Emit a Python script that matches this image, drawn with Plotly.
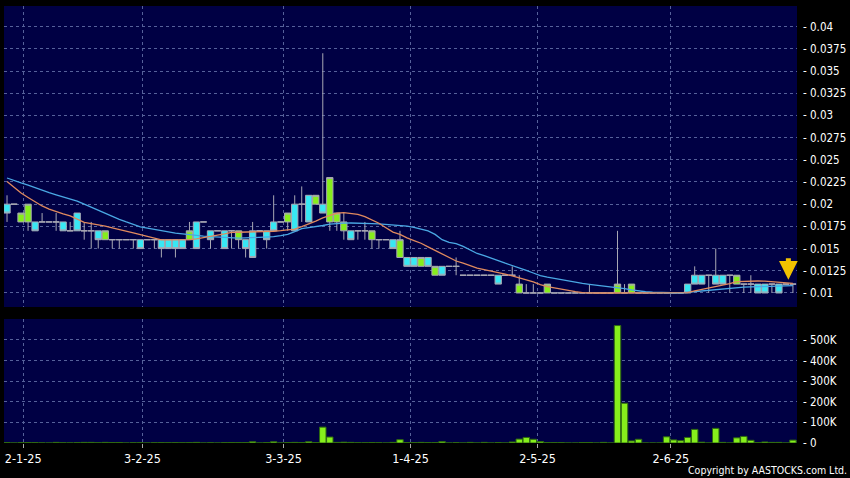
import plotly.graph_objects as go

# ---------------- data ----------------
tick_pos = [2.3, 19.3, 39.4, 57.5, 75.6, 94.6]
tick_labels = ["2-1-25", "3-2-25", "3-3-25", "1-4-25", "2-5-25", "2-6-25"]

price_ticks = [0.01, 0.0125, 0.015, 0.0175, 0.02, 0.0225, 0.025, 0.0275, 0.03, 0.0325, 0.035, 0.0375, 0.04]
price_tick_text = ["0.01", "0.0125", "0.015", "0.0175", "0.02", "0.0225", "0.025", "0.0275", "0.03", "0.0325", "0.035", "0.0375", "0.04"]
vol_ticks = [0, 100000, 200000, 300000, 400000, 500000]
vol_tick_text = ["0", "100K", "200K", "300K", "400K", "500K"]

open_ = [0.020, 0.020, 0.018, 0.018, 0.018, 0.018, 0.018, 0.018, 0.018, 0.017,
         0.019, 0.017, 0.017, 0.017, 0.016, 0.016, 0.016, 0.016, 0.016, 0.016,
         0.016, 0.016, 0.016, 0.016, 0.016, 0.016, 0.016, 0.018, 0.018, 0.017,
         0.017, 0.017, 0.017, 0.016, 0.016, 0.017, 0.017, 0.017, 0.018, 0.018,
         0.018, 0.020, 0.020, 0.021, 0.020, 0.020, 0.018, 0.018, 0.017, 0.017,
         0.017, 0.017, 0.016, 0.016, 0.016, 0.016, 0.014, 0.014, 0.014, 0.013,
         0.014, 0.012, 0.013, 0.013, 0.013, 0.012, 0.012, 0.012, 0.012, 0.012,
         0.012, 0.012, 0.012, 0.010, 0.010, 0.010, 0.010, 0.010, 0.010, 0.010,
         0.010, 0.010, 0.010, 0.010, 0.010, 0.010, 0.010, 0.010, 0.010, 0.010,
         0.010, 0.010, 0.010, 0.010, 0.010, 0.010, 0.010, 0.011, 0.012, 0.012,
         0.012, 0.012, 0.012, 0.012, 0.011, 0.011, 0.011, 0.011, 0.011, 0.011,
         0.011, 0.011, 0.011]
high = [0.021, 0.020, 0.019, 0.020, 0.018, 0.019, 0.018, 0.019, 0.018, 0.018,
        0.019, 0.018, 0.018, 0.017, 0.017, 0.016, 0.016, 0.016, 0.016, 0.016,
        0.016, 0.016, 0.016, 0.016, 0.016, 0.016, 0.018, 0.018, 0.018, 0.017,
        0.017, 0.017, 0.017, 0.017, 0.016, 0.018, 0.017, 0.017, 0.021, 0.018,
        0.019, 0.021, 0.022, 0.021, 0.021, 0.037, 0.023, 0.019, 0.019, 0.017,
        0.017, 0.018, 0.017, 0.016, 0.016, 0.016, 0.017, 0.014, 0.014, 0.014,
        0.014, 0.013, 0.013, 0.013, 0.014, 0.012, 0.012, 0.012, 0.012, 0.012,
        0.012, 0.012, 0.013, 0.012, 0.011, 0.011, 0.010, 0.011, 0.010, 0.010,
        0.010, 0.010, 0.010, 0.011, 0.010, 0.010, 0.010, 0.017, 0.011, 0.011,
        0.010, 0.010, 0.010, 0.010, 0.010, 0.010, 0.010, 0.011, 0.013, 0.012,
        0.012, 0.015, 0.012, 0.012, 0.012, 0.011, 0.012, 0.011, 0.011, 0.011,
        0.011, 0.011, 0.011]
low = [0.018, 0.020, 0.018, 0.017, 0.017, 0.018, 0.018, 0.017, 0.017, 0.017,
       0.017, 0.016, 0.015, 0.015, 0.016, 0.015, 0.015, 0.016, 0.015, 0.015,
       0.016, 0.015, 0.014, 0.015, 0.014, 0.015, 0.016, 0.015, 0.018, 0.015,
       0.017, 0.015, 0.015, 0.015, 0.014, 0.014, 0.017, 0.015, 0.017, 0.018,
       0.017, 0.017, 0.018, 0.018, 0.020, 0.019, 0.017, 0.017, 0.016, 0.016,
       0.016, 0.016, 0.015, 0.015, 0.016, 0.015, 0.014, 0.013, 0.013, 0.013,
       0.013, 0.012, 0.012, 0.013, 0.012, 0.012, 0.012, 0.012, 0.012, 0.012,
       0.011, 0.012, 0.012, 0.010, 0.010, 0.010, 0.010, 0.010, 0.010, 0.010,
       0.010, 0.010, 0.010, 0.010, 0.010, 0.010, 0.010, 0.010, 0.010, 0.010,
       0.010, 0.010, 0.010, 0.010, 0.010, 0.010, 0.010, 0.010, 0.011, 0.011,
       0.010, 0.011, 0.011, 0.010, 0.011, 0.010, 0.010, 0.010, 0.010, 0.010,
       0.010, 0.011, 0.010]
close = [0.019, 0.020, 0.019, 0.020, 0.017, 0.018, 0.018, 0.018, 0.017, 0.017,
         0.017, 0.017, 0.017, 0.016, 0.017, 0.016, 0.016, 0.016, 0.016, 0.015,
         0.016, 0.016, 0.015, 0.015, 0.015, 0.015, 0.017, 0.015, 0.018, 0.016,
         0.017, 0.015, 0.017, 0.017, 0.015, 0.014, 0.017, 0.016, 0.017, 0.018,
         0.019, 0.017, 0.020, 0.018, 0.021, 0.019, 0.023, 0.019, 0.018, 0.016,
         0.017, 0.017, 0.017, 0.016, 0.016, 0.015, 0.016, 0.013, 0.013, 0.014,
         0.013, 0.013, 0.012, 0.013, 0.013, 0.012, 0.012, 0.012, 0.012, 0.012,
         0.011, 0.012, 0.012, 0.011, 0.010, 0.010, 0.010, 0.011, 0.010, 0.010,
         0.010, 0.010, 0.010, 0.010, 0.010, 0.010, 0.010, 0.011, 0.010, 0.011,
         0.010, 0.010, 0.010, 0.010, 0.010, 0.010, 0.010, 0.010, 0.011, 0.011,
         0.012, 0.011, 0.011, 0.012, 0.012, 0.011, 0.011, 0.010, 0.010, 0.011,
         0.010, 0.011, 0.011]
volume = [2000, 0, 1500, 2000, 1500, 500, 0, 3000, 1000, 500,
          1500, 3000, 3000, 1000, 3000, 2000, 2500, 0, 1000, 1000,
          0, 1000, 1500, 1000, 1500, 1000, 1500, 3000, 0, 1000,
          0, 1500, 2500, 1500, 2000, 6000, 0, 2000, 6000, 0,
          2000, 3000, 2000, 6000, 2000, 77000, 29000, 3000, 4000, 3000,
          1000, 1000, 2500, 1000, 0, 3000, 16000, 2000, 1500, 3000,
          1500, 2000, 7000, 0, 1500, 0, 3000, 0, 3000, 0,
          2000, 0, 5000, 19000, 27000, 18000, 7000, 2000, 1500, 1500,
          0, 0, 2500, 2500, 0, 3000, 0, 570000, 193000, 10000,
          18000, 0, 0, 0, 30000, 15000, 11000, 27000, 66000, 4000,
          0, 71000, 3000, 0, 25000, 32000, 13000, 2000, 5000, 3000,
          3000, 0, 14000]
ma_short = [0.02255, 0.02185, 0.02125, 0.02075, 0.02030, 0.01980, 0.01945, 0.01915, 0.01890, 0.01868,
            0.01830, 0.01795, 0.01780, 0.01768, 0.01752, 0.01733, 0.01717, 0.01698, 0.01678, 0.01658,
            0.01638, 0.01613, 0.01597, 0.01597, 0.01597, 0.01597, 0.01600, 0.01610, 0.01625, 0.01645,
            0.01652, 0.01665, 0.01682, 0.01684, 0.01685, 0.01686, 0.01688, 0.01690, 0.01695, 0.01702,
            0.01709, 0.01720, 0.01747, 0.01775, 0.01810, 0.01845, 0.01875, 0.01900, 0.01904, 0.01897,
            0.01885, 0.01860, 0.01825, 0.01785, 0.01735, 0.01685, 0.01660, 0.01620, 0.01590, 0.01560,
            0.01520, 0.01480, 0.01440, 0.01400, 0.01360, 0.01335, 0.01305, 0.01280, 0.01263, 0.01248,
            0.01233, 0.01212, 0.01192, 0.01170, 0.01150, 0.01125, 0.01095, 0.01072, 0.01058, 0.01042,
            0.01030, 0.01015, 0.01005, 0.01000, 0.01000, 0.01000, 0.01000, 0.01003, 0.01003, 0.01005,
            0.01005, 0.01005, 0.01004, 0.01003, 0.01002, 0.01001, 0.01000, 0.01005, 0.01025, 0.01040,
            0.01055, 0.01070, 0.01090, 0.01105, 0.01127, 0.01132, 0.01135, 0.01135, 0.01133, 0.01128,
            0.01122, 0.01113, 0.01108]
ma_long = [0.02295, 0.02265, 0.02240, 0.02215, 0.02185, 0.02155, 0.02130, 0.02105, 0.02080, 0.02060,
           0.02035, 0.02000, 0.01965, 0.01930, 0.01895, 0.01860, 0.01830, 0.01800, 0.01775, 0.01745,
           0.01730, 0.01715, 0.01705, 0.01690, 0.01675, 0.01665, 0.01655, 0.01648, 0.01640, 0.01634,
           0.01628, 0.01622, 0.01616, 0.01617, 0.01620, 0.01622, 0.01625, 0.01628, 0.01635, 0.01645,
           0.01660, 0.01690, 0.01725, 0.01737, 0.01745, 0.01760, 0.01775, 0.01785, 0.01787, 0.01788,
           0.01788, 0.01785, 0.01782, 0.01778, 0.01773, 0.01768, 0.01762, 0.01752, 0.01740, 0.01720,
           0.01700, 0.01660, 0.01600, 0.01570, 0.01555, 0.01525, 0.01485, 0.01445, 0.01420, 0.01395,
           0.01365, 0.01335, 0.01310, 0.01283, 0.01255, 0.01225, 0.01195, 0.01178, 0.01163, 0.01148,
           0.01133, 0.01117, 0.01108, 0.01097, 0.01088, 0.01080, 0.01071, 0.01060, 0.01048, 0.01035,
           0.01022, 0.01014, 0.01008, 0.01004, 0.01001, 0.01000, 0.01000, 0.01008, 0.01015, 0.01025,
           0.01035, 0.01043, 0.01050, 0.01055, 0.01060, 0.01065, 0.01068, 0.01070, 0.01073, 0.01076,
           0.01079, 0.01081, 0.01083]
latest_close = 0.0115

# ---------------- styling ----------------
BG = "#000000"
PLOT_BG = "#000044"
GRID = "#56619a"
CYAN = "#38e8f4"
GREEN = "#86ee1c"
WICK = "#a8a8b4"
FONT = "DejaVu Sans Condensed, DejaVu Sans"

idx = list(range(len(close)))
x_range = [-0.43, 112.58]

fig = go.Figure()

fig.add_trace(go.Candlestick(
    x=idx, open=open_, high=high, low=low, close=close,
    increasing=dict(fillcolor=GREEN, line=dict(color=WICK, width=1)),
    decreasing=dict(fillcolor=CYAN, line=dict(color=WICK, width=1)),
    whiskerwidth=0, xaxis="x", yaxis="y", showlegend=False, hoverinfo="skip",
))
fig.add_trace(go.Scatter(x=idx, y=ma_long, mode="lines",
                         line=dict(color="#4aa8e4", width=1.3), xaxis="x", yaxis="y",
                         showlegend=False, hoverinfo="skip"))
fig.add_trace(go.Scatter(x=idx, y=ma_short, mode="lines",
                         line=dict(color="#e08a5e", width=1.3), xaxis="x", yaxis="y",
                         showlegend=False, hoverinfo="skip"))
fig.add_trace(go.Bar(x=idx, y=volume, marker=dict(color=GREEN, line=dict(color="#2f6a10", width=1)),
                     width=0.92, xaxis="x2", yaxis="y2", showlegend=False, hoverinfo="skip"))

axis_font = dict(family=FONT, size=11.5, color="#ffffff")

fig.update_layout(
    width=850, height=478,
    paper_bgcolor=BG, plot_bgcolor=PLOT_BG,
    margin=dict(l=4, r=50, t=6, b=35),
    boxgap=0.1,
    boxgroupgap=0,
    bargap=0.08,
    xaxis=dict(domain=[0, 1], anchor="y", range=x_range, rangeslider=dict(visible=False),
               tickvals=tick_pos, showticklabels=False, ticks="",
               showgrid=True, gridcolor=GRID, griddash="3px,3px", gridwidth=1,
               zeroline=False, showline=False),
    xaxis2=dict(domain=[0, 1], anchor="y2", range=x_range, matches="x",
                tickvals=tick_pos, ticktext=tick_labels, ticks="outside", ticklen=4,
                tickcolor="#aaaaaa", tickfont=dict(family=FONT, size=12.5, color="#ffffff"),
                showgrid=True, gridcolor=GRID, griddash="3px,3px", gridwidth=1,
                zeroline=False, showline=False),
    yaxis=dict(domain=[0.3112, 1], anchor="x", side="right", range=[0.00842, 0.04232],
               tickvals=price_ticks, ticktext=["- " + t for t in price_tick_text],
               ticks="", tickfont=axis_font, ticklabelstandoff=5,
               showgrid=True, gridcolor=GRID, griddash="3px,3px", gridwidth=1,
               zeroline=False, showline=False),
    yaxis2=dict(domain=[0, 0.2838], anchor="x2", side="right", range=[0, 602000],
                tickvals=vol_ticks, ticktext=["- " + t for t in vol_tick_text],
                ticks="", tickfont=axis_font, ticklabelstandoff=5,
                showgrid=True, gridcolor=GRID, griddash="3px,3px", gridwidth=1,
                zeroline=False, showline=False),
    annotations=[
        dict(x=111.35, y=latest_close, xref="x", yref="y", text="", showarrow=True,
             ax=0, ay=-23, arrowhead=2, arrowsize=0.75, arrowwidth=5, arrowcolor="#f2c200"),
        dict(x=1.066, y=-0.062, xref="paper", yref="paper", xanchor="right", yanchor="middle",
             text="Copyright by AASTOCKS.com Ltd.", showarrow=False,
             font=dict(family=FONT, size=10.5, color="#ffffff")),
    ],
)

fig.write_html("out.html", config={"displayModeBar": False},
               post_script="document.body.style.margin='0';document.body.style.background='#000';")
